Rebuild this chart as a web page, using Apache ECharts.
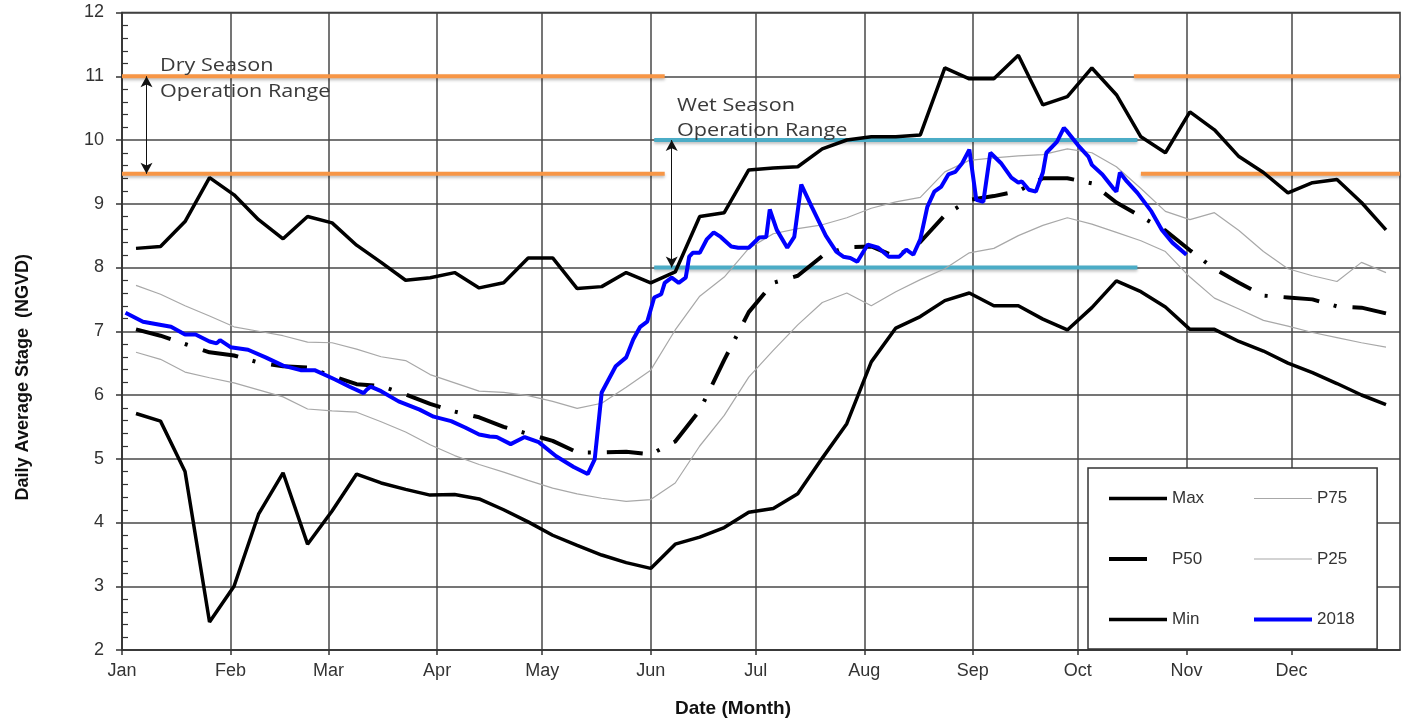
<!DOCTYPE html>
<html>
<head>
<meta charset="utf-8">
<script src="https://cdn.jsdelivr.net/npm/echarts@6/dist/echarts.min.js"></script>
<style>
html,body{margin:0;padding:0;background:#fff;}
#chart{width:1411px;height:723px;}
</style>
</head>
<body>
<div id="chart"></div>
<script>
// ---------- axis structure ----------
const monthNames = ['Jan','Feb','Mar','Apr','May','Jun','Jul','Aug','Sep','Oct','Nov','Dec'];
const monthStarts = [0,31,59,90,120,151,181,212,243,273,304,334];
const yTicks = [2,3,4,5,6,7,8,9,10,11,12];

// ---------- weekly statistics: [day of year, stage] ----------
const maxData = [[4,8.30],[11,8.33],[18,8.72],[25,9.41],[32,9.14],[39,8.75],[46,8.45],[53,8.80],[60,8.70],[67,8.35],[74,8.08],[81,7.80],[88,7.84],[95,7.92],[102,7.68],[109,7.76],[116,8.15],[123,8.15],[130,7.67],[137,7.70],[144,7.92],[151,7.76],[158,7.93],[165,8.80],[172,8.86],[179,9.53],[186,9.56],[193,9.58],[200,9.86],[207,10.00],[214,10.05],[221,10.05],[228,10.08],[235,11.13],[242,10.96],[249,10.96],[256,11.33],[263,10.55],[270,10.68],[277,11.13],[284,10.71],[291,10.05],[298,9.80],[305,10.44],[312,10.16],[319,9.74],[326,9.49],[333,9.17],[340,9.33],[347,9.38],[354,9.02],[361,8.59]];
const minData = [[4,5.71],[11,5.59],[18,4.80],[25,2.44],[32,3.00],[39,4.13],[46,4.78],[53,3.66],[60,4.18],[67,4.76],[74,4.62],[81,4.52],[88,4.43],[95,4.44],[102,4.37],[109,4.20],[116,4.01],[123,3.80],[130,3.64],[137,3.49],[144,3.37],[151,3.28],[158,3.66],[165,3.77],[172,3.92],[179,4.16],[186,4.22],[193,4.45],[200,5.01],[207,5.55],[214,6.52],[221,7.05],[228,7.23],[235,7.48],[242,7.60],[249,7.40],[256,7.40],[263,7.19],[270,7.02],[277,7.37],[284,7.79],[291,7.62],[298,7.38],[305,7.03],[312,7.03],[319,6.84],[326,6.69],[333,6.50],[340,6.35],[347,6.18],[354,6.00],[361,5.85]];
const p50Data = [[4,7.03],[11,6.93],[18,6.80],[25,6.67],[32,6.62],[39,6.51],[46,6.45],[53,6.43],[60,6.30],[67,6.17],[74,6.14],[81,6.01],[88,5.86],[95,5.74],[102,5.65],[109,5.50],[116,5.39],[123,5.28],[130,5.10],[137,5.10],[144,5.11],[151,5.07],[158,5.27],[165,5.76],[172,6.55],[179,7.30],[186,7.76],[193,7.87],[200,8.18],[207,8.32],[214,8.33],[221,8.17],[228,8.40],[235,8.82],[242,9.06],[249,9.12],[256,9.20],[263,9.40],[270,9.40],[277,9.32],[284,9.02],[291,8.80],[298,8.58],[305,8.27],[312,7.98],[319,7.76],[326,7.56],[333,7.53],[340,7.50],[347,7.39],[354,7.37],[361,7.28]];
const p75Data = [[4,7.72],[11,7.58],[18,7.40],[25,7.24],[32,7.07],[39,7.00],[46,6.93],[53,6.83],[60,6.82],[67,6.72],[74,6.60],[81,6.54],[88,6.32],[95,6.19],[102,6.06],[109,6.04],[116,5.99],[123,5.90],[130,5.79],[137,5.87],[144,6.12],[151,6.39],[158,7.02],[165,7.55],[172,7.85],[179,8.30],[186,8.53],[193,8.61],[200,8.67],[207,8.78],[214,8.93],[221,9.03],[228,9.10],[235,9.50],[242,9.68],[249,9.72],[256,9.75],[263,9.77],[270,9.86],[277,9.80],[284,9.58],[291,9.24],[298,8.88],[305,8.75],[312,8.86],[319,8.58],[326,8.25],[333,7.98],[340,7.87],[347,7.78],[354,8.08],[361,7.92]];
const p25Data = [[4,6.67],[11,6.56],[18,6.36],[25,6.27],[32,6.19],[39,6.08],[46,5.97],[53,5.78],[60,5.75],[67,5.73],[74,5.58],[81,5.42],[88,5.22],[95,5.05],[102,4.91],[109,4.79],[116,4.66],[123,4.54],[130,4.45],[137,4.38],[144,4.33],[151,4.36],[158,4.62],[165,5.20],[172,5.68],[179,6.28],[186,6.70],[193,7.10],[200,7.45],[207,7.60],[214,7.40],[221,7.62],[228,7.81],[235,7.98],[242,8.23],[249,8.30],[256,8.50],[263,8.66],[270,8.78],[277,8.68],[284,8.55],[291,8.42],[298,8.25],[305,7.85],[312,7.52],[319,7.35],[326,7.17],[333,7.08],[340,6.98],[347,6.90],[354,6.82],[361,6.75]];

// ---------- 2018 daily stage: [day of year, stage] ----------
const y2018Data = [[1,7.29],[6,7.15],[14,7.07],[18,6.95],[21,6.95],[25,6.84],[27,6.81],[28,6.86],[31,6.75],[36,6.71],[41,6.59],[46,6.46],[51,6.39],[55,6.39],[59,6.29],[61,6.24],[65,6.13],[69,6.03],[70,6.09],[71,6.13],[74,6.06],[79,5.90],[85,5.77],[89,5.66],[94,5.59],[98,5.49],[102,5.38],[105,5.35],[107,5.34],[111,5.23],[115,5.34],[119,5.26],[124,5.04],[129,4.87],[133,4.76],[135,4.99],[136,5.51],[137,6.04],[141,6.45],[144,6.59],[146,6.87],[148,7.07],[150,7.15],[152,7.53],[154,7.58],[155,7.76],[157,7.84],[159,7.76],[161,7.84],[162,8.17],[163,8.23],[165,8.23],[167,8.44],[169,8.55],[171,8.48],[174,8.33],[176,8.31],[179,8.31],[182,8.47],[184,8.48],[185,8.91],[187,8.59],[190,8.31],[192,8.48],[194,9.30],[197,8.95],[201,8.50],[204,8.25],[206,8.17],[208,8.15],[210,8.09],[213,8.36],[216,8.31],[219,8.17],[222,8.17],[224,8.28],[226,8.20],[228,8.44],[230,8.95],[232,9.19],[234,9.27],[236,9.46],[238,9.50],[240,9.64],[242,9.85],[244,9.06],[246,9.03],[248,9.80],[251,9.64],[254,9.41],[256,9.33],[257,9.35],[259,9.22],[261,9.19],[263,9.49],[264,9.80],[267,9.97],[269,10.19],[270,10.13],[273,9.92],[276,9.74],[277,9.61],[280,9.46],[283,9.25],[284,9.19],[285,9.49],[287,9.35],[290,9.17],[294,8.88],[297,8.59],[300,8.39],[304,8.20]];

// ---------- operating ranges: [day of year, stage] ----------
const dryUpperA = [[0,11],[155,11]];
const dryLowerA = [[0,9.47],[155,9.47]];
const dryUpperB = [[289,11],[365,11]];
const dryLowerB = [[291,9.47],[365,9.47]];
const wetUpper = [[152,10],[290,10]];
const wetLower = [[152,8],[290,8]];
const dryArrow = [[7,11],[7,9.47]];
const wetArrow = [[157,10],[157,8]];

const days = Array.from({length:366},(_,i)=>String(i));
const isMonth = (i)=>monthStarts.indexOf(i) >= 0;

const FONT = 'Liberation Sans, Arial, sans-serif';
const gridColor = '#474747';
const NOTE_FONT = '18px "Open Sans", sans-serif';
const BLACK_W = 3.5, BLUE_W = 4, GRAY_W = 1.2;

function rangeSeries(name, data, color){
  return {name, type:'line', data, symbol:'none', silent:true, z:2,
    lineStyle:{color, width:4, shadowColor:'rgba(0,0,0,0.25)', shadowBlur:3, shadowOffsetY:2}};
}
function arrowSeries(name, pts){
  return {name, type:'line', data:[], symbol:'none', silent:true, z:3,
    markLine:{silent:true, symbol:['arrow','arrow'], symbolSize:[9,11], label:{show:false},
      lineStyle:{color:'#111', width:1, type:'solid'},
      emphasis:{disabled:true},
      data:[[{coord:pts[0]},{coord:pts[1]}]]}};
}

const chart = echarts.init(document.getElementById('chart'), null, {renderer:'canvas'});
const legendCommon = {
  orient:'vertical', itemWidth:58, itemHeight:14, itemGap:43.5,
  textStyle:{fontFamily:FONT, fontSize:17, color:'#333'},
  itemStyle:{opacity:0}, selectedMode:false
};
const option = {
  animation:false,
  backgroundColor:'#fff',
  grid:{left:122, right:11, top:12.5, bottom:72, show:true, borderColor:'#333', borderWidth:1.5, containLabel:false},
  xAxis:{
    type:'category', data:days, boundaryGap:false,
    name:'Date (Month)', nameLocation:'middle', nameGap:49,
    nameTextStyle:{fontFamily:FONT, fontSize:19, fontWeight:'bold', color:'#111', padding:[0,56,0,0]},
    axisLine:{lineStyle:{color:'#333', width:1.5}},
    axisTick:{show:true, interval:(i)=>isMonth(i), length:5, lineStyle:{color:'#333', width:1.5}},
    axisLabel:{interval:(i)=>isMonth(i), formatter:(v,i)=>{const k=monthStarts.indexOf(Number(v)); return k>=0?monthNames[k]:'';},
      fontFamily:FONT, fontSize:18, color:'#333', margin:12},
    splitLine:{show:true, interval:(i)=>isMonth(i), lineStyle:{color:gridColor, width:1.5}}
  },
  yAxis:[{
    type:'value', min:yTicks[0], max:yTicks[yTicks.length-1], interval:1,
    name:'Daily Average Stage  (NGVD)', nameLocation:'middle', nameGap:90, nameRotate:90,
    nameTextStyle:{fontFamily:FONT, fontSize:18, fontWeight:'bold', color:'#111', padding:[0,92,0,0]},
    axisLine:{show:true, lineStyle:{color:'#333', width:1.5}},
    axisTick:{show:true, length:6, lineStyle:{color:'#333', width:1.5}},
    axisLabel:{fontFamily:FONT, fontSize:18, color:'#333', margin:18},
    splitLine:{show:true, lineStyle:{color:gridColor, width:1.5}}
  },{
    type:'value', min:yTicks[0], max:yTicks[yTicks.length-1], interval:1, position:'left',
    axisLine:{show:false}, axisLabel:{show:false}, splitLine:{show:false},
    axisTick:{show:false, inside:true},
    minorTick:{show:true, splitNumber:5, length:6, lineStyle:{color:'#333', width:1.2}}
  }],
  legend:[
    Object.assign({}, legendCommon, {
      left:1088, top:468, padding:[22,173,21,19],
      backgroundColor:'#fff', borderColor:'#333', borderWidth:1.5,
      data:[
        {name:'Max', lineStyle:{width:BLACK_W, color:'#000'}},
        {name:'P50', lineStyle:{width:BLACK_W+0.5, color:'#000', type:[38,40]}},
        {name:'Min', lineStyle:{width:BLACK_W, color:'#000'}}
      ]
    }),
    Object.assign({}, legendCommon, {
      left:1252, top:490, padding:0, z:6,
      data:[
        {name:'P75', lineStyle:{width:GRAY_W, color:'#a8a8a8'}},
        {name:'P25', lineStyle:{width:GRAY_W, color:'#a8a8a8'}},
        {name:'2018', lineStyle:{width:BLUE_W, color:'#0000FF'}}
      ]
    })
  ],
  graphic:[
    {type:'text', left:160, top:57, z:10, scaleX:1.2, style:{text:'Dry Season', font:NOTE_FONT, fill:'#3a3a3a'}},
    {type:'text', left:160, top:83, z:10, scaleX:1.2, style:{text:'Operation Range', font:NOTE_FONT, fill:'#3a3a3a'}},
    {type:'text', left:677, top:97, z:10, scaleX:1.2, style:{text:'Wet Season', font:NOTE_FONT, fill:'#3a3a3a'}},
    {type:'text', left:677, top:122, z:10, scaleX:1.2, style:{text:'Operation Range', font:NOTE_FONT, fill:'#3a3a3a'}}
  ],
  series:[
    rangeSeries('dryU1', dryUpperA, '#F79646'),
    rangeSeries('dryL1', dryLowerA, '#F79646'),
    rangeSeries('dryU2', dryUpperB, '#F79646'),
    rangeSeries('dryL2', dryLowerB, '#F79646'),
    rangeSeries('wetU', wetUpper, '#4BACC6'),
    rangeSeries('wetL', wetLower, '#4BACC6'),
    arrowSeries('dryArrow', dryArrow),
    arrowSeries('wetArrow', wetArrow),
    {name:'P75', type:'line', data:p75Data, symbol:'none', z:4, lineStyle:{color:'#a8a8a8', width:GRAY_W}, itemStyle:{color:'#a8a8a8'}},
    {name:'P25', type:'line', data:p25Data, symbol:'none', z:4, lineStyle:{color:'#a8a8a8', width:GRAY_W}, itemStyle:{color:'#a8a8a8'}},
    {name:'Max', type:'line', data:maxData, symbol:'none', z:5, lineStyle:{color:'#000', width:BLACK_W}, itemStyle:{color:'#000'}},
    {name:'Min', type:'line', data:minData, symbol:'none', z:5, lineStyle:{color:'#000', width:BLACK_W}, itemStyle:{color:'#000'}},
    {name:'P50', type:'line', data:p50Data, symbol:'none', z:5, lineStyle:{color:'#000', width:4, type:[36,15,3,16]}, itemStyle:{color:'#000'}},
    {name:'2018', type:'line', data:y2018Data, symbol:'none', z:6, lineStyle:{color:'#0000FF', width:BLUE_W}, itemStyle:{color:'#0000FF'}}
  ]
};
chart.setOption(option);
</script>
</body>
</html>
